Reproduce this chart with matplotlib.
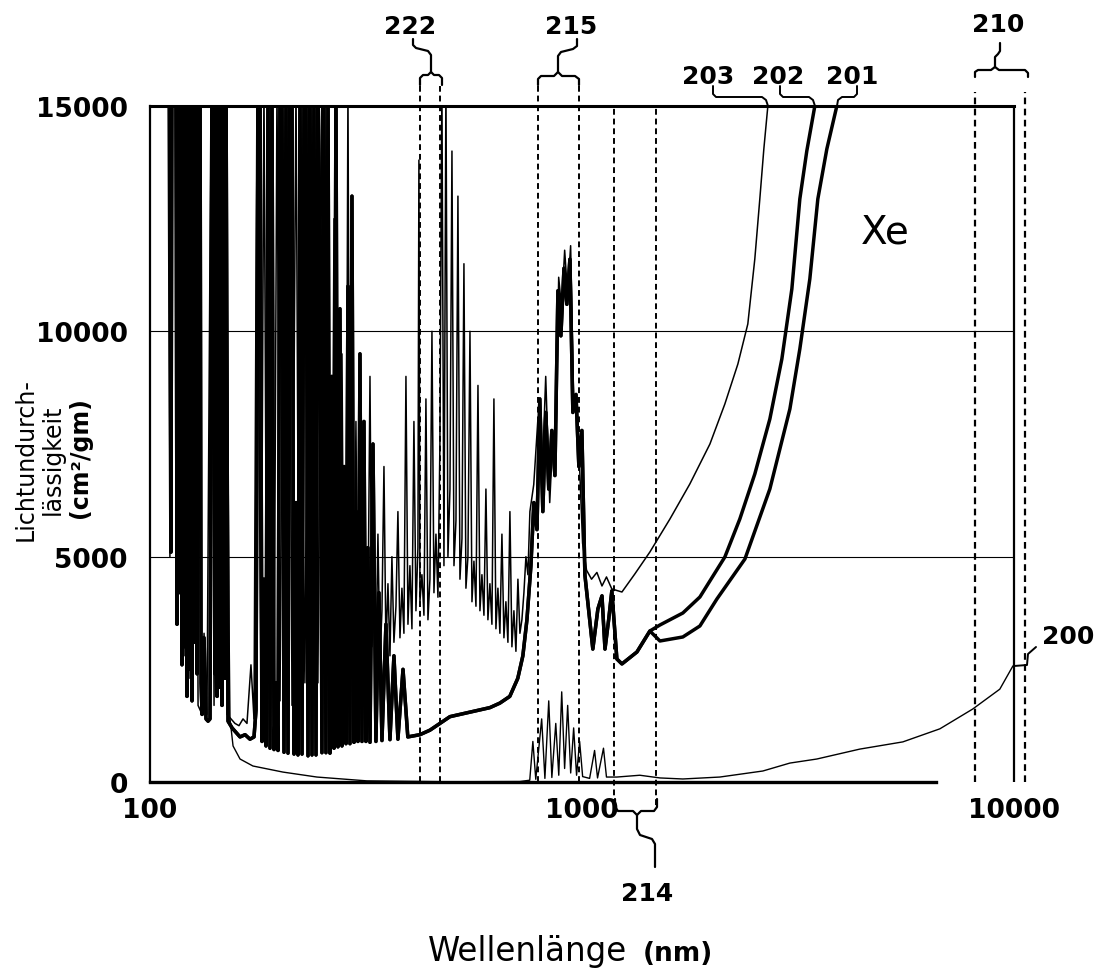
import matplotlib
matplotlib.use("Agg")
import matplotlib.pyplot as plt
from matplotlib.lines import Line2D
from matplotlib.ticker import NullLocator

# ---------------- data (wavelength in nm, opacity in cm^2/gm) ----------------
T = 15500  # off-scale (beyond the 15000 top of the axis)

# thick curves 201/202 : shared far-UV part
uv1_wl = [108.9, 109.5, 110.1, 110.7, 111.3, 111.8, 112.4, 113.0, 113.7, 114.3,
          114.9, 115.5, 116.1, 116.8, 117.4, 118.0, 118.6, 119.3, 119.9, 120.5,
          121.2, 121.8, 122.5, 123.1, 123.8, 124.4, 125.1, 125.8, 126.5, 127.1,
          127.8, 128.5, 129.2, 129.9, 130.6, 131.3, 132.0, 133.4, 134.8, 136.3,
          137.7, 139.2, 140.7, 141.4, 142.2, 143.0, 143.7, 144.5, 145.3, 146.0,
          146.8, 147.6, 148.4, 149.2, 150.0, 151.6]
uv1_val = [T, T, T, T, T, 5100, T, T, T, T,
           T, 3500, T, T, 4200, T, 2600, T, T, 3000,
           T, 1900, T, T, 2500, T, 1800, T, T, 3100,
           T, 2400, T, T, T, 2200, 1500, 3200, 1400, 1350,
           1400, T, T, 2400, T, 1900, T, T, 2100, T,
           1700, T, T, 2300, T, 1350]
# thick curves 201/202 : shared UV / visible part
uv2_wl = [154.9, 158.2, 161.6, 166.0, 170.4, 174.1, 176.0, 177.9,
          179.8, 181.7, 183.6, 185.6, 187.6, 189.6, 191.6, 193.7, 195.8, 197.9,
          200.0, 202.1, 204.3, 206.5, 208.7, 210.9, 213.2, 215.5, 217.8, 220.1,
          222.5, 224.9, 227.3, 229.7, 232.2, 234.7, 237.2, 239.7, 242.3, 244.9,
          247.5, 250.1, 252.8, 255.5, 258.3, 261.0, 263.8, 266.7, 269.5, 272.4,
          275.3, 278.3, 281.3, 284.3, 287.3, 290.4, 293.5, 296.7, 299.8, 303.0,
          306.3, 309.6, 312.9, 316.2, 319.6, 323.1, 328.3, 333.5, 338.9, 344.4,
          351.8, 359.4, 367.1, 375.0, 385.3, 395.3, 421.7, 444.8, 469.1, 494.9,
          522.0, 550.6, 580.7, 612.2, 645.6, 680.9]
uv2_val = [1200, 1100, 1000, 1050, 950, 1000, 1600, T,
           T, 900, 4500, 800, T, 750, T, 720, 2200, 700,
           T, T, 660, T, 640, T, T, 620, 6200, 600,
           T, 620, T, T, 580, T, 600, T, 600, T,
           12000, 650, T, 650, T, 640, 9000, 750, T, 780,
           10500, 800, 7000, 850, 11000, 850, 13000, 880, 6000, 900,
           9500, 900, 8000, 900, 5200, 880, 7500, 900, 4200, 920,
           3500, 940, 2800, 950, 2500, 1000, 1050, 1150, 1300, 1450,
           1500, 1550, 1600, 1650, 1750, 1900]
peak_wl = [710.5, 730, 746, 762, 774, 787, 799, 812, 825, 838, 852, 866, 880, 894, 909,
           923, 938, 953, 969, 984, 1000, 1016]
peak_val = [2300, 2800, 3600, 4800, 6200, 5600, 8500, 6000, 8200, 6500, 7800, 6800, 10900,
            9900, 11400, 10600, 11600, 8200, 8600, 7000, 7800, 4600]
w_wl = [1060, 1089, 1113, 1131, 1154, 1173, 1205, 1238, 1341, 1437]
w_val = [2950, 3840, 4130, 2950, 3620, 4240, 2730, 2620, 2885, 3351]
tail202_wl = [1516, 1713, 1876, 2032, 2143, 2321, 2514, 2724, 2904, 3063, 3196, 3317, 3462, 3594]
tail202_val = [3484, 3750, 4105, 4638, 4993, 5836, 6835, 8055, 9386, 10940, 12937, 14002, 15000, 15932]
tail201_wl = [1516, 1713, 1876, 2054, 2385, 2724, 3031, 3196, 3371, 3518, 3691, 3893, 3999]
tail201_val = [3129, 3218, 3462, 4061, 4948, 6502, 8277, 9608, 11162, 12937, 14046, 15000, 15600]

# thin curve 203
s203_uv_wl = [108.3, 110.1, 111.2, 112.4, 114.3, 115.5, 116.7, 118.6, 119.9, 121.8,
              123.8, 125.8, 127.8, 129.2, 131.3, 133.4, 135.5, 138.5, 140.7, 143.0,
              146.0, 148.4, 150.8, 154.0, 157.3, 160.7, 164.2, 167.7, 171.3, 174.1,
              176.9, 180.7, 183.6, 186.6, 189.6, 193.7, 196.8, 200.0, 203.2, 206.5,
              209.8, 213.2, 217.8, 221.3, 224.8, 228.4, 233.4, 237.1, 240.9, 244.8,
              250.1, 254.1, 258.2]
s203_uv_val = [T, T, 5000, T, T, 6200, T, T, 2800, T,
               2300, T, T, 1700, 1550, 3300, 1500, T, 1700, T,
               T, T, 1500, 1400, 1300, 1250, 1400, 1300, 2600, 1400,
               T, 1300, T, 1500, 9000, 1600, T, 1800, 12000, 2000,
               T, 1700, T, 2000, 8000, 2200, T, 2000, 10000, 2200,
               T, 2500, 7000]
s203_vis_wl = [261.0, 263.8, 266.7, 269.5, 272.4, 275.3, 278.3, 281.3, 284.3, 287.3,
               290.4, 293.5, 296.7, 299.8, 303.0, 306.3, 309.6, 312.9, 316.2, 319.6,
               323.1, 326.5, 330.0, 333.5, 337.1, 340.7, 344.4, 348.1, 351.8, 355.6,
               359.4, 363.2, 367.1, 371.1, 375.0, 379.1, 383.1, 387.2, 391.4, 395.6,
               399.8, 404.1, 408.4, 412.8, 417.2, 419.4, 421.7, 426.2, 430.8, 435.4,
               440.1, 444.8, 449.6, 454.4, 459.3, 464.2, 469.1, 474.1, 479.3, 484.4,
               489.6, 494.9, 500.2, 505.6, 511.0, 516.4, 522.0, 527.6, 533.2, 538.9,
               544.7, 550.6, 556.5, 562.4, 568.5, 574.6, 580.7, 586.9, 593.2, 599.5,
               605.9, 612.4, 619.0, 625.6, 632.3, 639.1, 645.9, 652.9, 659.9, 666.9,
               674.1, 681.3, 688.6, 696.0, 703.5, 711.0, 718.6, 726.3, 734.1, 742.0,
               749.9, 757.9]
s203_vis_val = [2300, 3500, 12500, 2600, 3800, 2400, 9500, 2400, 3200, T,
                2500, 4200, 2800, 8000, 2600, 4500, 2400, 6500, 2800, 3600,
                9000, 3000, 4200, 2600, 5500, 2700, 3800, 7000, 3000, 4400,
                2800, 5000, 3100, 3900, 6000, 3200, 4300, 3300, 9000, 3500,
                4800, 3400, 8000, 3800, 5200, 13800, 4000, 4600, 3700, 8500,
                3600, 4500, 10000, 4200, 5500, 4100, 7500, T, 4800, T,
                5000, 6500, 14000, 4800, 5800, 13000, 4500, 5400, 11500, 4300,
                5000, 10000, 4000, 4900, 3900, 8800, 3800, 4600, 3700, 6500,
                3600, 4400, 3500, 8500, 3400, 4300, 3300, 5500, 3200, 4000,
                3100, 6000, 3000, 3800, 2900, 4500, 3300, 3600, 4200, 5000,
                4600, 6000]
s203_ir_wl = [773.6, 790.3, 807.3, 824.6, 842.4, 855.9, 869.6, 883.6, 897.8, 912.2,
              926.9, 941.7, 956.9, 972.2, 987.8, 1003.7, 1025.2, 1052.8, 1083.3, 1113,
              1140.1, 1173, 1238, 1326, 1437, 1599, 1778, 1979, 2143, 2297,
              2422, 2514, 2582, 2638, 2695, 2753]
s203_ir_val = [6600, 8000, 6500, 9000, 6200, 7600, 7200, 11200, 10500, 11800,
               10800, 11900, 8500, 8200, 7000, 5300, 4700, 4500, 4650, 4350,
               4550, 4283, 4216, 4616, 5104, 5836, 6613, 7500, 8388, 9275,
               10163, 11605, 12937, 14046, 15000, 16043]

# thin curve 200
s200_wl = [150.0, 152.4, 153.2, 155.7, 161.6, 173.1, 203.2, 243.5, 317.9, 494.9, 718.1, 757.3,
           770, 782, 807, 821, 838, 852, 870, 884, 898, 912, 927, 942, 957, 972, 988, 1004,
           1042, 1070, 1087, 1122, 1140, 1205, 1362, 1516, 1713, 2086, 2624, 3031, 3499, 4400,
           5535, 6743, 8036, 9282, 9947]
s200_val = [T, 3500, 1400, 800, 510, 355, 220, 110, 25, 5, 10, 40,
            900, 60, 1400, 80, 1800, 100, 1300, 150, 2000, 300, 1700, 200, 1200, 150, 900, 120,
            80, 700, 90, 750, 110, 110, 150, 90, 67, 110, 244, 420, 510, 730,
            890, 1180, 1620, 2060, 2570]

band_222 = [422, 469]
band_215 = [791, 984]
band_214 = [1186, 1483]
band_210 = [8130, 10590]

x_ticks = [100, 1000, 10000]
x_ticklabels = ["100", "1000", "10000"]
y_ticks = [0, 5000, 10000, 15000]
y_ticklabels = ["0", "5000", "10000", "15000"]
grid_vals = [5000, 10000]

# ---------------- figure ----------------
W, H = 1102, 978
fig = plt.figure(figsize=(W / 100, H / 100), dpi=100)
ax = fig.add_axes([150 / W, 1 - 783 / H, 890 / W, 676 / H])
ax.set_xscale("log")
ax.set_xlim(100, 11500)
ax.set_ylim(0, 15000)

s202_wl = uv1_wl + uv2_wl + peak_wl + w_wl + tail202_wl
s202_val = uv1_val + uv2_val + peak_val + w_val + tail202_val
s201_wl = uv1_wl + uv2_wl + peak_wl + w_wl + tail201_wl
s201_val = uv1_val + uv2_val + peak_val + w_val + tail201_val
s203_wl = s203_uv_wl + s203_vis_wl + s203_ir_wl
s203_val = s203_uv_val + s203_vis_val + s203_ir_val

ax.hlines(grid_vals, x_ticks[0], x_ticks[-1], color="k", lw=0.8, zorder=1)
ax.plot(s203_wl, s203_val, color="k", lw=1.1, zorder=3)
ax.plot(s200_wl, s200_val, color="k", lw=1.0, zorder=3)
ax.plot(s202_wl, s202_val, color="k", lw=2.5, zorder=4)
ax.plot(s201_wl, s201_val, color="k", lw=2.5, zorder=4)

# spines
ax.spines["right"].set_visible(False)
ax.spines["top"].set_linewidth(2.2)
ax.spines["top"].set_bounds(x_ticks[0], x_ticks[-1])
ax.spines["bottom"].set_linewidth(2.4)
ax.spines["bottom"].set_bounds(x_ticks[0], 6600)
ax.spines["left"].set_linewidth(1.6)
ax.axvline(x_ticks[-1], color="k", lw=1.6, zorder=5)

# ticks
ax.set_xticks(x_ticks)
ax.set_xticklabels(x_ticklabels)
ax.xaxis.set_minor_locator(NullLocator())
ax.set_yticks(y_ticks)
ax.set_yticklabels(y_ticklabels)
ax.tick_params(axis="x", length=0, labelsize=19, pad=11)
ax.tick_params(axis="y", length=0, labelsize=19, pad=16)
for lbl in ax.get_xticklabels() + ax.get_yticklabels():
    lbl.set_fontweight("bold")

# dashed band markers
dash = (0, (3, 2))
for x in band_222 + band_215:
    ax.axvline(x, ymin=0, ymax=1.03, ls=dash, lw=1.4, color="k", clip_on=False)
for x in band_214:
    ax.axvline(x, ymin=-0.034, ymax=1.0, ls=dash, lw=1.4, color="k", clip_on=False)
for x in band_210:
    ax.axvline(x, ymin=0, ymax=1.02, ls=dash, lw=1.6, color="k", clip_on=False)


# ---------------- annotations (figure pixel coordinates) ----------------
def pline(pts, lw=1.6):
    fig.add_artist(Line2D([p[0] / W for p in pts], [1 - p[1] / H for p in pts],
                          transform=fig.transFigure, color="k", lw=lw,
                          solid_capstyle="round", solid_joinstyle="round"))


def ptext(x, y, s, **kw):
    kw.setdefault("ha", "center")
    kw.setdefault("va", "center")
    fig.text(x / W, 1 - y / H, s, **kw)


num_kw = dict(fontsize=18, fontweight="bold")

# 222
pline([(420, 86), (420, 79), (423, 76), (428, 76), (431, 73), (434, 76), (439, 76), (442, 79), (442, 86)])
pline([(431, 73), (431, 56), (428, 52), (416, 49), (413, 46), (413, 40)])
ptext(410, 27, "222", **num_kw)
# 215
pline([(538, 86), (538, 80), (541, 77), (554, 77), (558, 73), (562, 77), (575, 77), (579, 80), (579, 86)])
pline([(558, 73), (558, 57), (561, 53), (573, 50), (577, 47), (577, 40)])
ptext(571, 27, "215", **num_kw)
# 210
pline([(975, 78), (975, 73), (978, 71), (991, 71), (995, 68), (999, 71), (1025, 71), (1028, 74), (1028, 78)])
pline([(995, 68), (995, 58), (998, 55), (1000, 52), (1000, 44)])
ptext(998, 25, "210", **num_kw)
# 214
pline([(615, 800), (615, 808), (618, 812), (633, 812), (637, 816), (641, 812), (654, 812), (657, 808), (657, 800)])
pline([(637, 816), (637, 830), (640, 836), (652, 840), (655, 845), (655, 868)])
ptext(647, 894, "214", **num_kw)
# 203 / 202 / 201 leaders
pline([(713, 87), (713, 95), (716, 98), (762, 98), (766, 101), (768, 107)], lw=1.4)
ptext(708, 77, "203", **num_kw)
pline([(780, 87), (780, 95), (783, 98), (809, 98), (813, 101), (815, 107)], lw=1.4)
ptext(778, 77, "202", **num_kw)
pline([(857, 87), (857, 95), (854, 98), (842, 98), (838, 101), (837, 107)], lw=1.4)
ptext(852, 77, "201", **num_kw)
# 200 leader
pline([(1014, 667), (1027, 666), (1028, 655), (1036, 648)], lw=1.4)
ptext(1068, 637, "200", **num_kw)

# Xe
ptext(885, 232, "Xe", fontsize=28)

# axis labels
ptext(26, 460, "Lichtundurch-", fontsize=17, rotation=90)
ptext(53, 460, "lässigkeit", fontsize=17, rotation=90)
ptext(80, 458, "(cm²/gm)", fontsize=17, fontweight="bold", rotation=90)
ptext(428, 961, "Wellenlänge", fontsize=23.5, ha="left", va="baseline")
ptext(643, 961, "(nm)", fontsize=19, fontweight="bold", ha="left", va="baseline")

fig.savefig("out.png", dpi=100)
